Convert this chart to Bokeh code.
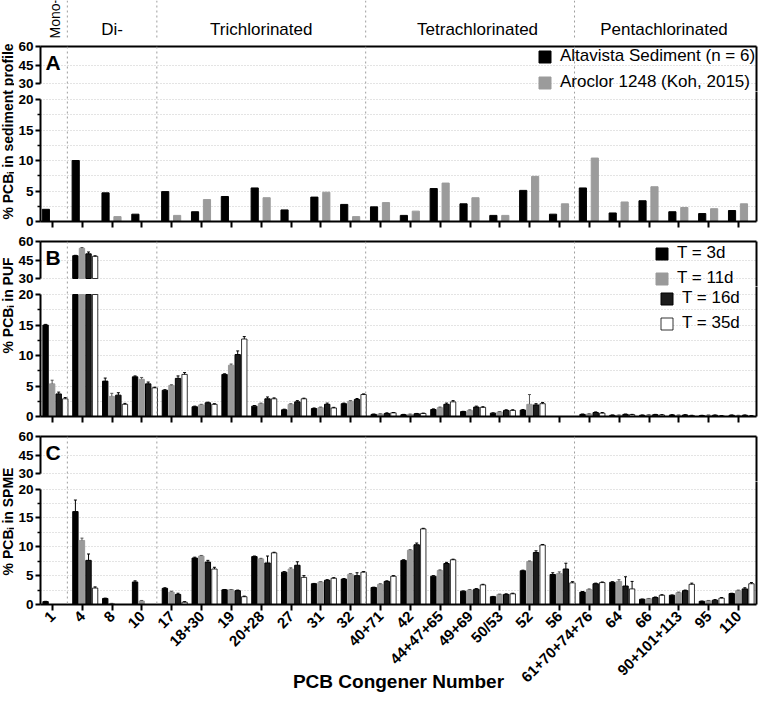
import math
import numpy as np
from bokeh.plotting import figure
from bokeh.models import (ColumnDataSource, Range1d, FixedTicker, LinearAxis, Span,
                          Legend, LegendItem, Label, CDSView, BooleanFilter)
from bokeh.layouts import column, row
from bokeh.transform import dodge
from bokeh.core.properties import value
from bokeh.embed import file_html
from bokeh.resources import INLINE

# ---------------- data ----------------
congeners = ["1", "4", "8", "10", "17", "18+30", "19", "20+28", "27", "31", "32", "40+71",
             "42", "44+47+65", "49+69", "50/53", "52", "56", "61+70+74+76", "64", "66",
             "90+101+113", "95", "110"]
idx = list(range(len(congeners)))

group_labels = ["Di-", "Trichlorinated", "Tetrachlorinated", "Pentachlorinated"]
group_label_x = [2.0, 7.0, 14.25, 20.5]
mono_label = "Mono-"
mono_x = 0.1
group_breaks = [0.5, 3.5, 10.5, 17.5]

# Panel A: sediment profile
sed_altavista = [2.0, 10.0, 4.7, 1.2, 4.9, 1.6, 4.1, 5.5, 1.9, 4.0, 2.8, 2.4,
                 1.0, 5.4, 2.9, 1.0, 5.1, 1.2, 5.5, 1.4, 3.4, 1.6, 1.3, 1.8]
sed_aroclor = [0.0, 0.0, 0.8, 0.0, 1.0, 3.6, 0.0, 3.9, 0.0, 4.8, 0.8, 3.1,
               1.7, 6.3, 3.9, 1.0, 7.4, 2.9, 10.4, 3.2, 5.7, 2.3, 2.1, 2.9]
sed_names = ["Altavista Sediment (n = 6)", "Aroclor 1248 (Koh, 2015)"]

# Panel B: PUF
puf_3d = [15.0, 48.5, 5.8, 6.5, 4.3, 1.6, 6.9, 1.7, 1.1, 1.3, 2.1, 0.35,
          0.3, 1.15, 0.8, 0.55, 1.05, 0.0, 0.35, 0.2, 0.2, 0.25, 0.15, 0.2]
puf_11d = [5.35, 54.5, 3.3, 6.1, 5.1, 1.9, 8.4, 2.1, 2.0, 1.45, 2.5, 0.4,
           0.35, 1.45, 1.0, 0.75, 2.0, 0.0, 0.4, 0.2, 0.25, 0.2, 0.2, 0.15]
puf_16d = [3.7, 50.0, 3.5, 5.35, 6.25, 2.25, 10.15, 2.9, 2.4, 2.0, 2.8, 0.5,
           0.45, 2.0, 1.55, 1.0, 1.9, 0.0, 0.65, 0.35, 0.3, 0.25, 0.2, 0.2]
puf_35d = [2.9, 48.0, 2.0, 4.7, 6.9, 2.0, 12.7, 2.9, 2.9, 1.4, 3.6, 0.6,
           0.5, 2.4, 1.5, 1.0, 2.1, 0.0, 0.55, 0.3, 0.25, 0.15, 0.1, 0.1]
puf_3d_err = [0.1, 0.3, 0.5, 0.15, 0.1, 0.1, 0.1, 0.1, 0.1, 0.1, 0.1, 0.05,
              0.05, 0.1, 0.05, 0.05, 0.1, 0.0, 0.05, 0.05, 0.05, 0.05, 0.05, 0.05]
puf_11d_err = [0.6, 0.6, 0.5, 0.3, 0.1, 0.1, 0.2, 0.1, 0.1, 0.1, 0.1, 0.05,
               0.05, 0.1, 0.1, 0.05, 1.6, 0.0, 0.05, 0.05, 0.05, 0.05, 0.05, 0.05]
puf_16d_err = [0.3, 1.5, 0.4, 0.3, 0.4, 0.1, 0.6, 0.3, 0.2, 0.2, 0.15, 0.1,
               0.05, 0.2, 0.15, 0.1, 0.2, 0.0, 0.1, 0.05, 0.05, 0.05, 0.05, 0.05]
puf_35d_err = [0.2, 0.4, 0.15, 0.1, 0.3, 0.1, 0.4, 0.15, 0.1, 0.1, 0.1, 0.05,
               0.05, 0.2, 0.1, 0.1, 0.2, 0.0, 0.1, 0.05, 0.05, 0.05, 0.05, 0.05]

# Panel C: SPME
spme_3d = [0.5, 16.1, 1.05, 3.9, 2.8, 8.05, 2.55, 8.3, 5.6, 3.6, 4.4, 2.95,
           7.65, 4.9, 2.3, 1.35, 5.85, 5.2, 2.15, 3.85, 0.9, 1.6, 0.55, 1.9]
spme_11d = [0.0, 11.1, 0.15, 0.6, 2.15, 8.4, 2.55, 7.9, 6.15, 3.9, 5.25, 3.5,
            9.4, 5.9, 2.5, 1.75, 7.45, 5.35, 2.6, 4.0, 1.0, 2.05, 0.65, 2.4]
spme_16d = [0.0, 7.65, 0.0, 0.0, 1.75, 7.35, 2.4, 7.2, 6.8, 4.2, 5.0, 4.0,
            10.35, 7.1, 2.65, 1.75, 9.0, 6.15, 3.6, 3.2, 1.2, 2.4, 0.75, 2.7]
spme_35d = [0.0, 2.85, 0.0, 0.0, 0.4, 6.15, 1.35, 8.95, 4.7, 4.55, 5.6, 4.9,
            13.1, 7.75, 3.4, 1.85, 10.3, 3.75, 3.8, 2.7, 1.6, 3.5, 1.1, 3.6]
spme_3d_err = [0.05, 2.0, 0.05, 0.2, 0.1, 0.15, 0.05, 0.1, 0.1, 0.05, 0.1, 0.05,
               0.1, 0.1, 0.05, 0.05, 0.1, 0.3, 0.1, 0.1, 0.05, 0.05, 0.05, 0.05]
spme_11d_err = [0.0, 0.4, 0.05, 0.1, 0.15, 0.1, 0.05, 0.1, 0.2, 0.05, 0.1, 0.1,
                0.1, 0.1, 0.1, 0.05, 0.1, 0.3, 0.1, 0.3, 0.05, 0.1, 0.05, 0.1]
spme_16d_err = [0.0, 1.1, 0.0, 0.0, 0.2, 0.3, 0.1, 1.2, 0.6, 0.1, 0.5, 0.1,
                0.3, 0.2, 0.1, 0.1, 0.3, 1.0, 0.1, 1.6, 0.1, 0.1, 0.1, 0.2]
spme_35d_err = [0.0, 0.2, 0.0, 0.0, 0.1, 0.3, 0.1, 0.1, 0.3, 0.1, 0.1, 0.1,
                0.1, 0.1, 0.1, 0.1, 0.1, 0.2, 0.1, 1.3, 0.1, 0.2, 0.1, 0.2]

time_names = ["T = 3d", "T = 11d", "T = 16d", "T = 35d"]
y_titles = ["% PCB\u1d62 in sediment profile", "% PCB\u1d62 in  PUF", "% PCB\u1d62 in SPME"]
x_title = "PCB Congener Number"
upper_ticks = [30, 45, 60]
upper_grid = [30, 45]
lower_ticks = [0, 5, 10, 15, 20]
lower_minor = [2.5, 7.5, 12.5, 17.5]
BREAK_LO, BREAK_HI, TOP = 20, 30, 60

# ---------------- style / layout ----------------
FONT = "Liberation Sans"
TOTAL_W = 760
LBL_W = 14
W = TOTAL_W - LBL_W
LEFT = 26
RIGHT = 4
HEAD_H = 38
UP_TOP = 8
UP_SEG = 37
UP_GAP = 8
LOW_GAP = 8
LOW_FRAME = 122
MID_BOTTOM = 12
LAST_BOTTOM = 84
YTICK_SIZE = "13.5px"
UP_H = UP_TOP + UP_SEG + UP_GAP
UP_PX = UP_SEG / (TOP - BREAK_HI)
LOW_PX = LOW_FRAME / BREAK_LO
UP_LO = BREAK_HI - UP_GAP / UP_PX
LOW_HI = BREAK_LO + LOW_GAP / LOW_PX
TOTAL_H = HEAD_H + 3 * UP_H + 3 * (LOW_GAP + LOW_FRAME) + 2 * MID_BOTTOM + LAST_BOTTOM
PANEL_H = UP_H + LOW_GAP + LOW_FRAME + MID_BOTTOM
# centre of each y title, measured from the top of the page body
ytitle_from_top = [HEAD_H + UP_TOP + 85, HEAD_H + PANEL_H + UP_TOP + 62,
                   HEAD_H + 2 * PANEL_H + UP_TOP + 85]
ytitle_pos = [TOTAL_H - t for t in ytitle_from_top]

GRID = "#c9c9c9"
SEP = "#9e9e9e"
XR = Range1d(-0.4, 23.6)

four_fill = ["#000000", "#9a9a9a", "#1c1c1c", "#ffffff"]
four_line = ["#000000", "#9a9a9a", "#000000", "#000000"]
four_lw = [1, 1, 1, 0.8]
four_off = [-0.23, -0.01, 0.21, 0.43]
four_w = 0.18
two_fill = ["#000000", "#9b9b9b"]
two_off = [-0.22, 0.18]
two_w = 0.24


def style_axis(ax, size):
    ax.axis_line_width = 2
    ax.axis_line_color = "black"
    ax.major_tick_line_width = 2
    ax.minor_tick_line_width = 1.5
    ax.major_tick_in = 0
    ax.minor_tick_in = 0
    ax.major_label_text_font = FONT
    ax.major_label_text_font_style = "bold"
    ax.major_label_text_font_size = size
    ax.major_label_text_color = "black"


def border_axis(p, side):
    ax = LinearAxis(ticker=FixedTicker(ticks=[]), axis_line_width=2, axis_line_color="black",
                    major_tick_in=0, major_tick_out=0, minor_tick_in=0, minor_tick_out=0,
                    major_label_standoff=0, major_label_text_font_size="1px")
    p.add_layout(ax, side)


def add_seps(p):
    for b in group_breaks:
        p.add_layout(Span(location=b, dimension="height", line_color=SEP,
                          line_dash="2 3", line_width=1))


def make_upper(letter):
    p = figure(width=W, height=UP_H, x_range=XR, y_range=Range1d(UP_LO, TOP),
               x_axis_location=None, y_axis_location="left",
               output_backend="svg", toolbar_location=None,
               min_border_left=LEFT, min_border_right=RIGHT,
               min_border_top=UP_TOP, min_border_bottom=0, outline_line_color=None)
    p.yaxis.ticker = FixedTicker(ticks=upper_ticks)
    p.ygrid.ticker = FixedTicker(ticks=upper_grid)
    p.yaxis.bounds = (BREAK_HI, TOP)
    style_axis(p.yaxis[0], YTICK_SIZE)
    p.yaxis.major_tick_out = 5
    p.yaxis.minor_tick_out = 0
    p.yaxis.major_label_standoff = 2
    p.xgrid.visible = False
    p.ygrid.grid_line_color = GRID
    p.ygrid.grid_line_dash = "1 2"
    border_axis(p, "above")
    border_axis(p, "right")
    add_seps(p)
    p.add_layout(Label(x=XR.start, y=47, x_offset=5, text=letter, text_font=FONT,
                       text_font_style="bold", text_font_size="21px",
                       text_baseline="middle", text_color="black"))
    return p


def make_lower(bottom, last):
    p = figure(width=W, height=LOW_GAP + LOW_FRAME + bottom, x_range=XR,
               y_range=Range1d(0, LOW_HI),
               output_backend="svg", toolbar_location=None,
               min_border_left=LEFT, min_border_right=RIGHT,
               min_border_top=0, min_border_bottom=bottom, outline_line_color=None)
    t = FixedTicker(ticks=lower_ticks, minor_ticks=lower_minor)
    p.yaxis.ticker = t
    p.ygrid.ticker = t
    p.yaxis.bounds = (0, BREAK_LO)
    style_axis(p.yaxis[0], YTICK_SIZE)
    p.yaxis.major_tick_out = 5
    p.yaxis.minor_tick_out = 3
    p.yaxis.major_label_standoff = 2
    p.ygrid.grid_line_color = GRID
    p.ygrid.grid_line_dash = "1 2"
    p.ygrid.minor_grid_line_color = GRID
    p.ygrid.minor_grid_line_dash = "1 2"
    p.xgrid.visible = False
    p.xaxis.ticker = FixedTicker(ticks=idx)
    style_axis(p.xaxis[0], "15px")
    p.xaxis.major_tick_out = 6
    p.xaxis.minor_tick_out = 0
    if last:
        p.xaxis.major_label_overrides = {i: c for i, c in enumerate(congeners)}
        p.xaxis.major_label_orientation = math.pi / 4
        p.xaxis.major_label_standoff = 3
        p.xaxis.axis_label = x_title
        p.xaxis.axis_label_text_font = FONT
        p.xaxis.axis_label_text_font_style = "bold"
        p.xaxis.axis_label_text_font_size = "19px"
        p.xaxis.axis_label_text_color = "black"
        p.xaxis.axis_label_standoff = -23
    else:
        p.xaxis.major_label_overrides = {i: "" for i in idx}
        p.xaxis.major_label_text_font_size = "1px"
        p.xaxis.major_label_standoff = 0
    border_axis(p, "right")
    add_seps(p)
    return p


def draw_series(p_up, p_lo, src, col, ccol, ecol, off, width, fill, line, lw,
                vals, errs, split):
    x = dodge("idx", off)
    if split:
        up_view = CDSView(filter=BooleanFilter([v > BREAK_HI for v in vals]))
        r_up = p_up.vbar(x=x, width=width, bottom=BREAK_HI, top=col, source=src, view=up_view,
                         fill_color=fill, line_color=line, line_width=lw)
    else:
        # all values lie below the upper segment: bars are clipped away there
        r_up = p_up.vbar(x=x, width=width, bottom=0, top=col, source=src,
                         fill_color=fill, line_color=line, line_width=lw)
    r_lo = p_lo.vbar(x=x, width=width, bottom=0, top=ccol, source=src,
                     fill_color=fill, line_color=line, line_width=lw)
    if errs is not None:
        ec = "#000000" if fill != "#9a9a9a" else "#555555"
        views = ((p_up, CDSView(filter=BooleanFilter([v > BREAK_HI for v in vals]))),
                 (p_lo, CDSView(filter=BooleanFilter([(0 < v < BREAK_LO and e > 0)
                                                      for v, e in zip(vals, errs)]))))
        for p, view in views:
            p.segment(x0=x, x1=x, y0=col, y1=ecol, source=src, view=view,
                      line_color=ec, line_width=1)
            p.segment(x0=dodge("idx", off - 0.05), x1=dodge("idx", off + 0.05),
                      y0=ecol, y1=ecol, source=src, view=view, line_color=ec, line_width=1)
    return r_up, r_lo


def make_legend(items, margin, pad, size, lw, spacing, lh=20):
    return Legend(items=items, location="top_right", margin=margin, padding=pad,
                  spacing=spacing, label_text_font=FONT, label_text_font_size=size,
                  label_text_color="black", glyph_width=15, glyph_height=15,
                  label_height=lh, label_width=lw, label_standoff=8,
                  border_line_color=None, background_fill_alpha=0.0)


# ---------------- header ----------------
head = figure(width=W, height=HEAD_H, x_range=XR, y_range=Range1d(0, 1),
              x_axis_location=None, y_axis_location=None,
              output_backend="svg", toolbar_location=None,
              min_border_left=LEFT, min_border_right=RIGHT, min_border_top=0,
              min_border_bottom=0, outline_line_color=None)
head.grid.visible = False
add_seps(head)
head.text(x=group_label_x, y=[0.0] * len(group_labels), text=group_labels,
          text_align="center", text_baseline="bottom", text_font=value(FONT),
          text_font_size="17px", text_color="black")
head.text(x=[mono_x], y=[0.0], text=[mono_label], angle=math.pi / 2,
          text_align="left", text_baseline="middle", text_font=value(FONT),
          text_font_size="14px", text_color="black")

# ---------------- panel A ----------------
srcA = ColumnDataSource(dict(idx=idx, alt=sed_altavista, aro=sed_aroclor,
                             alt_c=list(np.minimum(sed_altavista, BREAK_LO)),
                             aro_c=list(np.minimum(sed_aroclor, BREAK_LO))))
A_up = make_upper("A")
A_lo = make_lower(MID_BOTTOM, False)
rA = []
for col, off, fill, vals in zip(["alt", "aro"], two_off, two_fill, [sed_altavista, sed_aroclor]):
    ru, rl = draw_series(A_up, A_lo, srcA, col, col + "_c", None, off, two_w, fill, fill, 1,
                         vals, None, False)
    rA.append(ru)
A_up.add_layout(make_legend([LegendItem(label=n, renderers=[r]) for n, r in zip(sed_names, rA)],
                            0, 1, "17px", 196, 6, 18))


def four_panel(letter, series, errors, bottom, last, legend_split):
    data = dict(idx=idx)
    for k, (v, er) in enumerate(zip(series, errors)):
        data["v%d" % k] = v
        data["c%d" % k] = list(np.minimum(v, BREAK_LO))
        data["h%d" % k] = list(np.add(v, er))
    src = ColumnDataSource(data)
    p_up = make_upper(letter)
    p_lo = make_lower(bottom, last)
    rs_up, rs_lo = [], []
    for k in range(4):
        ru, rl = draw_series(p_up, p_lo, src, "v%d" % k, "c%d" % k, "h%d" % k,
                             four_off[k], four_w, four_fill[k], four_line[k], four_lw[k],
                             series[k], errors[k], True)
        rs_up.append(ru)
        rs_lo.append(rl)
    if legend_split:
        p_up.add_layout(make_legend([LegendItem(label=time_names[k], renderers=[rs_up[k]])
                                     for k in (0, 1)], 2, 2, "17px", 77, 5))
        p_lo.add_layout(make_legend([LegendItem(label=time_names[k], renderers=[rs_lo[k]])
                                     for k in (2, 3)], 2, 8, "17px", 72, 5))
    return p_up, p_lo


B_up, B_lo = four_panel("B", [puf_3d, puf_11d, puf_16d, puf_35d],
                        [puf_3d_err, puf_11d_err, puf_16d_err, puf_35d_err],
                        MID_BOTTOM, False, True)
C_up, C_lo = four_panel("C", [spme_3d, spme_11d, spme_16d, spme_35d],
                        [spme_3d_err, spme_11d_err, spme_16d_err, spme_35d_err],
                        LAST_BOTTOM, True, False)

# ---------------- y titles ----------------
lab = figure(width=LBL_W, height=TOTAL_H, x_range=Range1d(0, 1), y_range=Range1d(0, TOTAL_H),
             x_axis_location=None, y_axis_location=None, output_backend="svg",
             toolbar_location=None, min_border=0, outline_line_color=None)
lab.grid.visible = False
lab.text(x=[0.5] * 3, y=ytitle_pos, text=y_titles, angle=math.pi / 2,
         text_align="center", text_baseline="middle", text_font=value(FONT),
         text_font_style="bold", text_font_size="14px", text_color="black")

layout = row(lab, column(head, A_up, A_lo, B_up, B_lo, C_up, C_lo))
open("out.html", "w").write(file_html(layout, INLINE, title="PCB congener profiles"))
